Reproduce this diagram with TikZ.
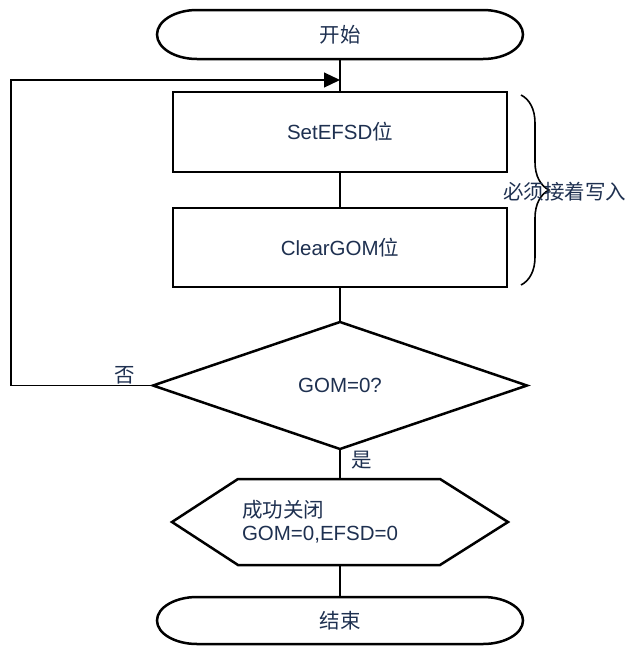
\documentclass[tikz,border=0pt]{standalone}
\usepackage{fontspec}
\setmainfont{Liberation Sans}
\newfontfamily\cjk{Noto Sans CJK SC}
\usepackage{tikz}
\usetikzlibrary{positioning, arrows.meta, calc, shapes.geometric, decorations.pathreplacing}
\definecolor{ink}{RGB}{30,48,80}

\begin{document}
\begin{tikzpicture}[x=1pt, y=-1pt, font=\fontsize{20.5}{23}\selectfont, text=ink,
  >={Triangle[length=16pt, width=15pt]},
  fat/.style={line width=2.5pt},
  thin/.style={line width=1.2pt},
  term/.style={minimum width=366pt, inner sep=0pt, outer sep=0pt},
  pbox/.style={draw, fat, minimum width=334pt, minimum height=80pt, inner sep=0pt, outer sep=0pt},
  qbox/.style={draw, fat, diamond, aspect=2.94, minimum width=374pt, minimum height=127pt,
               inner sep=0pt, outer sep=0pt},
  hbox/.style={text width=196pt, align=left, minimum width=336pt, minimum height=86pt,
               inner sep=0pt, outer sep=0pt}]
  \useasboundingbox (0,0) rectangle (630,646);
  \node[term, minimum height=49pt] (st) at (340,34.5) {\cjk 开始};
  \node[pbox, below=33pt of st]  (set) {SetEFSD{\cjk 位}};
  \node[pbox, minimum height=79pt, below=36pt of set] (clr) {ClearGOM{\cjk 位}};
  \node[qbox, below=35pt of clr] (gom) {GOM=0?};
  \node[hbox, below=30pt of gom] (ok)  {{\cjk 成功关闭}\\GOM=0,EFSD=0};
  \node[term, minimum height=47pt, below=32pt of ok] (en) {\cjk 结束};
  \foreach \t/\r in {st/24.5,en/23.5}
    \draw[fat] ($(\t.north west)+(40pt,0pt)$) -- ($(\t.north east)+(-40pt,0pt)$)
      arc[start angle=90, end angle=-90, x radius=40pt, y radius=\r pt]
      -- ($(\t.south west)+(40pt,0pt)$)
      arc[start angle=270, end angle=90, x radius=40pt, y radius=\r pt] -- cycle;
  \draw[fat] (ok.west) -- ($(ok.north west)+(66pt,0pt)$) -- ($(ok.north east)+(-68pt,0pt)$)
    -- (ok.east) -- ($(ok.south east)+(-68pt,0pt)$) -- ($(ok.south west)+(66pt,0pt)$) -- cycle;
  \foreach \a/\b in {st/set,set/clr,clr/gom,gom/ok,ok/en}
    \draw[thin] (\a) -- (\b);
  \coordinate (join) at (340,80);
  \coordinate (lc) at (11,385.5);
  \draw[thin, ->] (gom.west) -- (lc) |- (join);
  \node (no)  at (125,375) {\cjk 否};
  \node (yes) at (362,460) {\cjk 是};
  \draw[line width=1.6pt, decorate, decoration={brace, amplitude=28pt}] (521,95) -- (521,285);
  \node[anchor=west, inner sep=0pt] (wr) at (503,192) {\cjk 必须接着写入};
\end{tikzpicture}
\end{document}
